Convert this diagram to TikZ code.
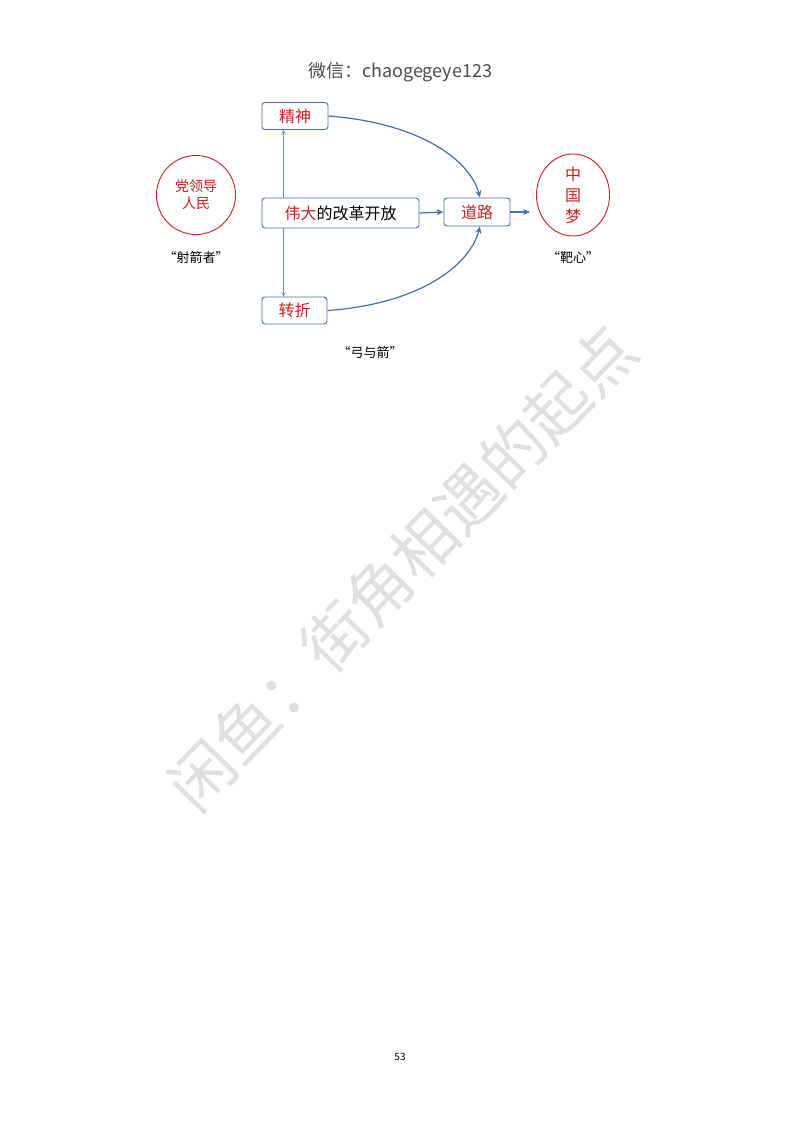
\documentclass[tikz,border=0pt]{standalone}
\usepackage{fontspec}
\setmainfont{Noto Sans CJK SC}
\usetikzlibrary{arrows.meta,shapes.geometric}
\definecolor{bblue}{RGB}{70,110,180}
\definecolor{rred}{RGB}{200,30,30}
\tikzset{
 box/.style={draw=bblue,rounded corners=3pt,line width=0.9pt,minimum height=27pt,inner sep=0pt,font=\fontsize{16}{16}\selectfont},
 conn/.style={draw=bblue,line width=1.2pt,-{Stealth[length=7pt,width=6pt]}},
 thin/.style={draw=bblue!80,line width=0.5pt,-{Straight Barb[length=4pt,width=4pt]}},
 lbl/.style={font=\fontsize{13}{13}\selectfont}
}
\begin{document}
\begin{tikzpicture}[x=1pt,y=-1pt]
\useasboundingbox (0,0) rectangle (800,1132);
\node[rotate=46,text=black!12,font=\fontsize{64}{64}\selectfont] (wm) at (402,568) {闲鱼：街角相遇的起点};
\node[text=black!70,font=\fontsize{18}{18}\selectfont] (title) at (400,72) {微信：chaogegeye123};
\node[box,minimum width=66pt,text=rred] (js) at (295,116) {精神};
\node[box,minimum width=157pt,minimum height=30pt] (wd) at (340.5,213) {\textcolor{rred}{伟大}的改革开放};
\node[box,minimum width=65pt,text=rred] (zz) at (294.5,310.5) {转折};
\node[box,minimum width=66pt,minimum height=28pt,text=rred] (dl) at (477,212) {道路};
\node[draw=rred,circle,minimum size=79pt,line width=0.9pt,inner sep=0pt,align=center,text=rred,font=\fontsize{14}{17}\selectfont] (c1) at (196,195) {党领导\\人民};
\node[draw=rred,ellipse,minimum width=73pt,minimum height=82pt,line width=0.9pt,inner sep=0pt,align=center,text=rred,font=\fontsize{16}{21}\selectfont] (c2) at (573,195) {中\\国\\梦};
\node[lbl] (l1) at (196,258) {“射箭者”};
\node[lbl] (l2) at (573,258) {“靶心”};
\node[lbl] (l3) at (370,352) {“弓与箭”};
\node[font=\fontsize{10}{10}\selectfont] (pg) at (400,1057) {53};
\coordinate (a1) at ([xshift=-57pt]wd.north);
\coordinate (a2) at ([xshift=-57pt]wd.south);
\coordinate (t2) at (530,212);
\draw[thin] (a1) -- (js.south -| a1);
\draw[thin] (a2) -- (zz.north -| a2);
\draw[conn] (js.east) .. controls (420,123) and (470,160) .. ([xshift=3pt]dl.north);
\draw[conn] (zz.east) .. controls (420,304) and (470,265) .. ([xshift=3pt]dl.south);
\draw[conn] (wd.east) -- (dl.west);
\draw[conn] (dl.east) -- (t2);
\end{tikzpicture}
\end{document}
